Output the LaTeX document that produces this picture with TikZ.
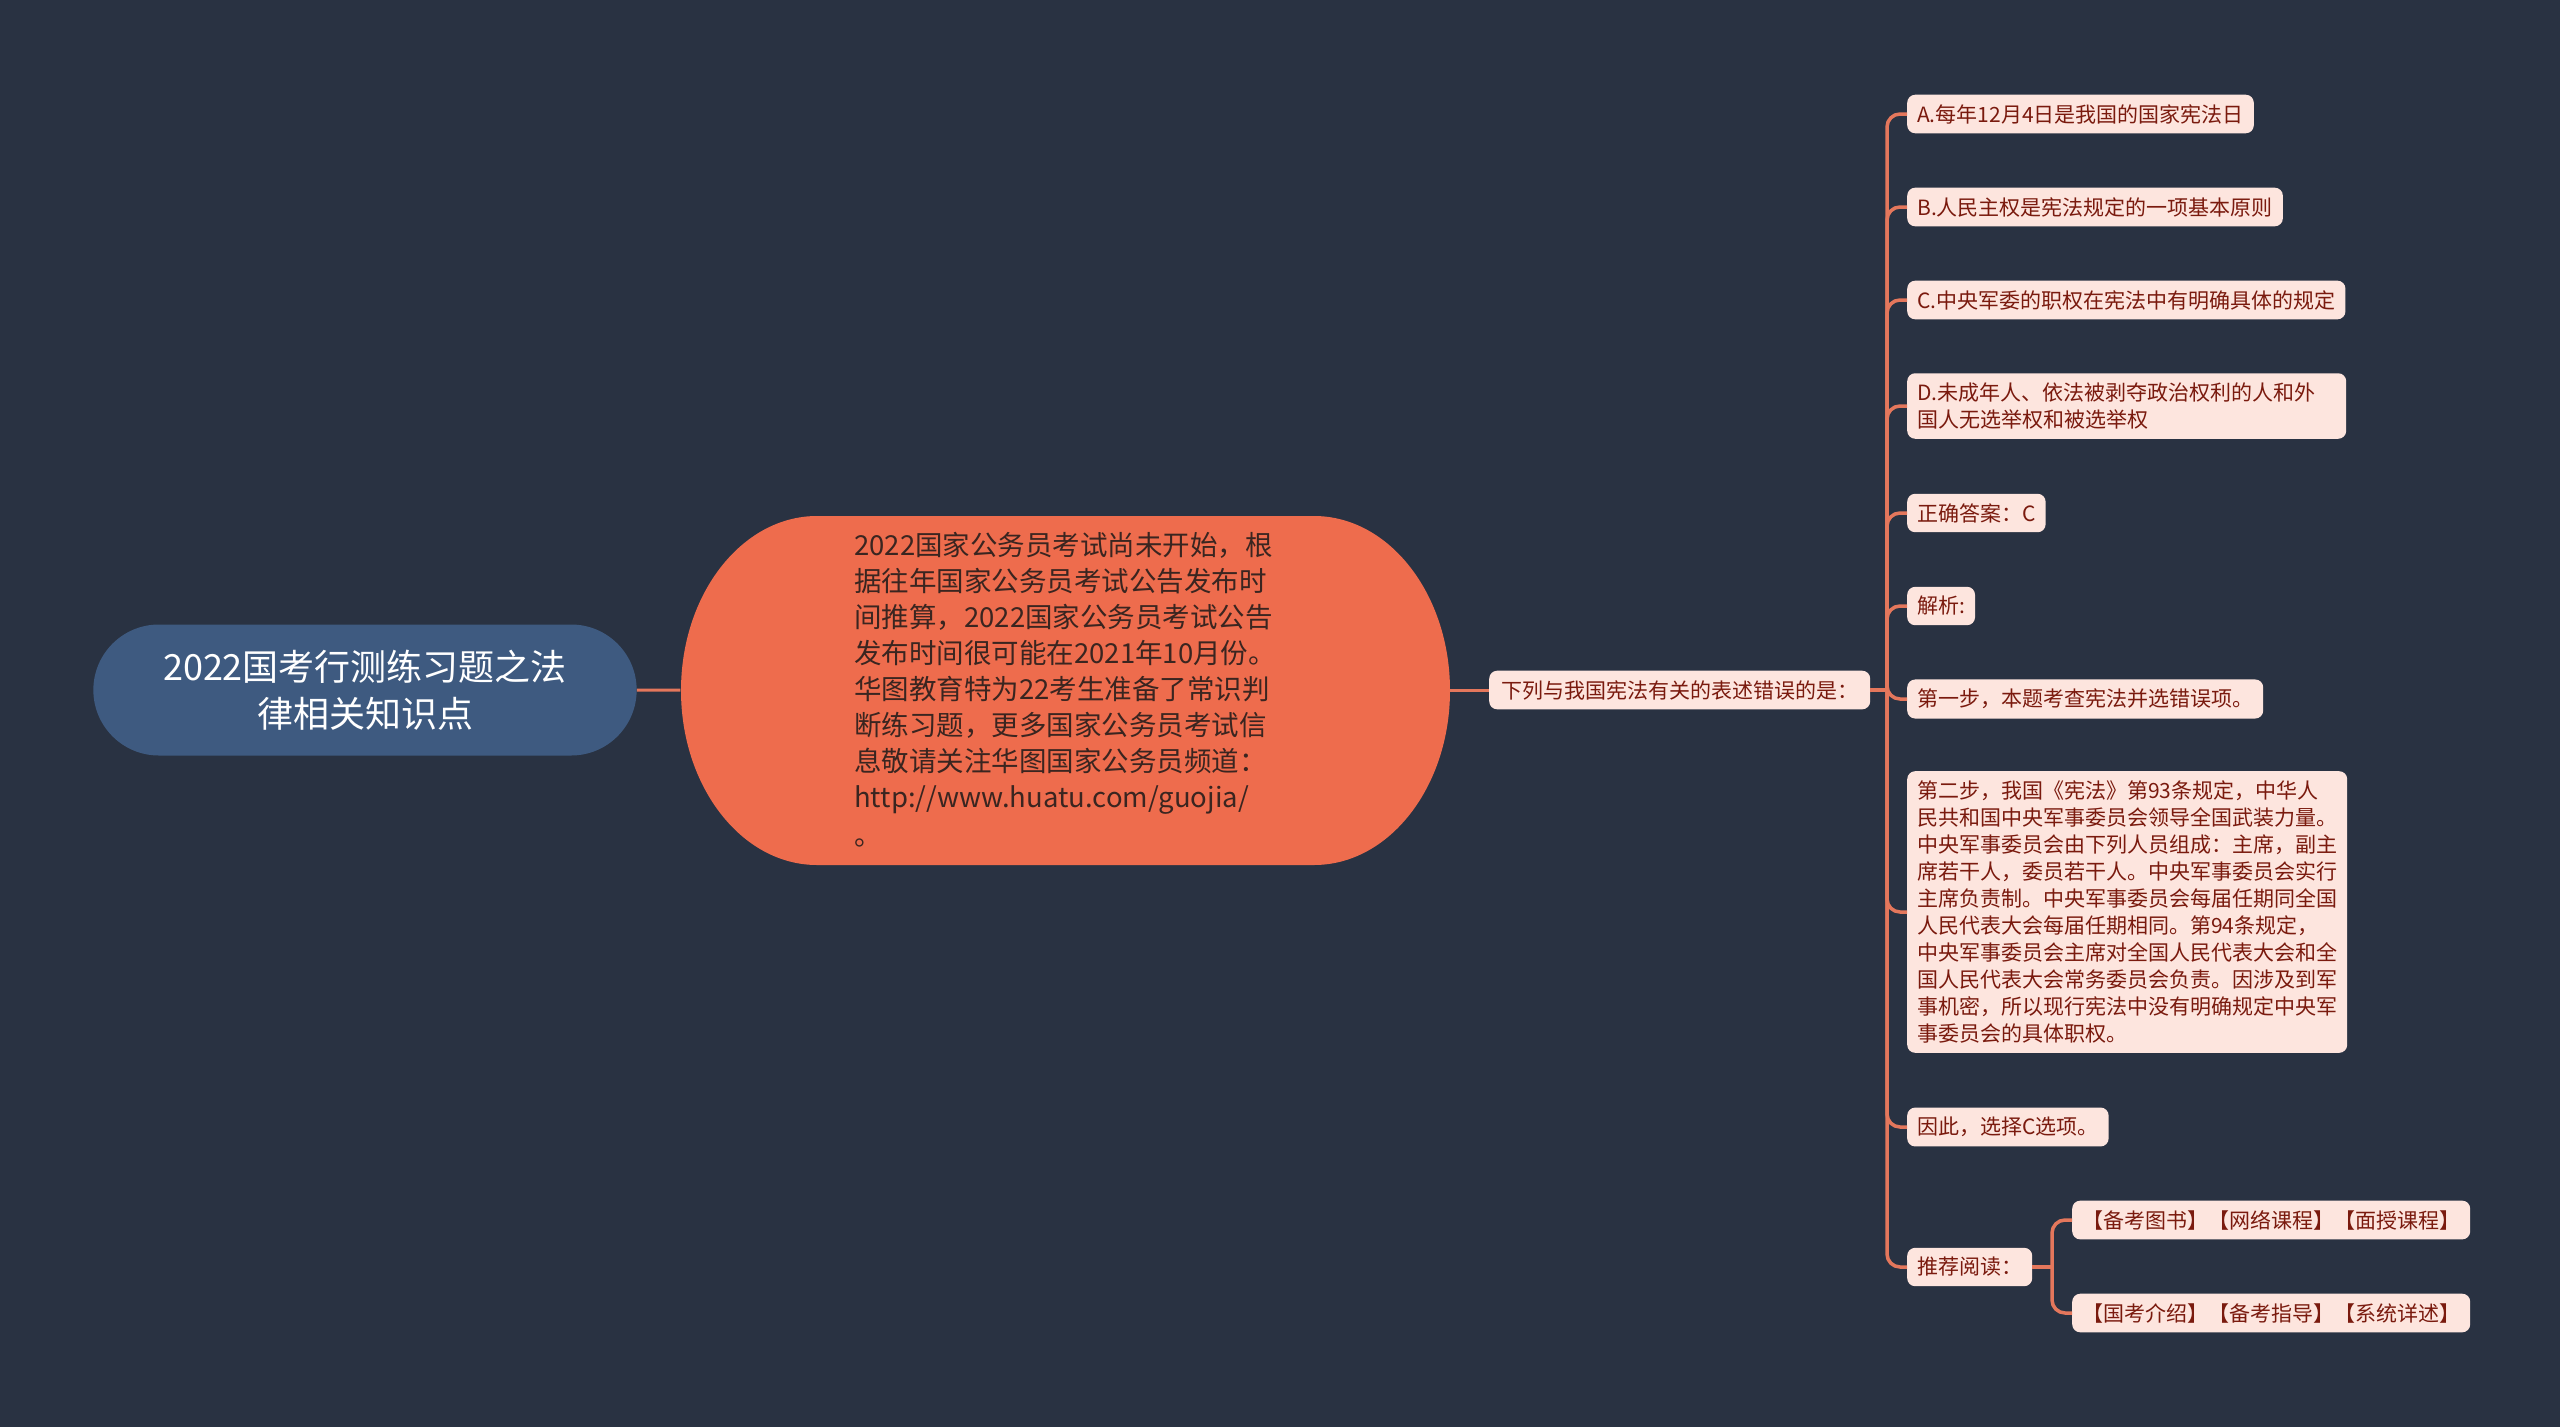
\documentclass[tikz,border=0pt]{standalone}
\usepackage{fontspec}
\setmainfont{Noto Sans CJK SC}
\usetikzlibrary{shapes.misc}
\definecolor{bgnavy}{HTML}{293242}
\definecolor{rootblue}{HTML}{3E5A80}
\definecolor{hubred}{HTML}{EE6C4D}
\definecolor{leafpink}{HTML}{FDE5DE}
\definecolor{leafink}{HTML}{7A1A0E}
\definecolor{hubink}{HTML}{3A2520}
\definecolor{wire}{HTML}{E4775C}
\begin{document}
\begin{tikzpicture}
[x=1pt, y=-1pt,
root/.style={shape=rounded rectangle, fill=rootblue, text=white, align=center,
  minimum width=550pt, minimum height=131pt, font=\fontsize{36}{47}\selectfont},
hub/.style={text=hubink, align=left, minimum width=769pt, minimum height=349pt,
  font=\fontsize{27.5}{36}\selectfont},
leaf/.style={anchor=west, fill=leafpink, text=leafink, rounded corners=8pt, align=left,
  inner xsep=10pt, inner ysep=9.5pt, font=\fontsize{21}{27}\selectfont},
link/.style={draw=wire, line width=3.5pt, rounded corners=13pt}]
\useasboundingbox[fill=bgnavy] (0,0) rectangle (2560,1427);

\node (root) at (365,690) [root] {2022国考行测练习题之法\\律相关知识点};
% hub body, oval ends
\fill[hubred] (817,516) -- (1314,516)
  arc[start angle=-90, end angle=90, x radius=136, y radius=174.5]
  -- (817,865) arc[start angle=90, end angle=270, x radius=136, y radius=174.5] -- cycle;
\node (hub) at (1065,690) [hub] {2022国家公务员考试尚未开始，根\\据往年国家公务员考试公告发布时\\间推算，2022国家公务员考试公告\\发布时间很可能在2021年10月份。\\华图教育特为22考生准备了常识判\\断练习题，更多国家公务员考试信\\息敬请关注华图国家公务员频道：\\http://www.huatu.com/guojia/\\[2pt]。};
\node (quest) at (1489,690) [leaf, inner xsep=12pt] {下列与我国宪法有关的表述错误的是：};

\coordinate (trunk) at (1887,690);
\node (optA) at (1907,114) [leaf] {A.每年12月4日是我国的国家宪法日};
\node (optB) at (1907,207) [leaf] {B.人民主权是宪法规定的一项基本原则};
\node (optC) at (1907,300) [leaf] {C.中央军委的职权在宪法中有明确具体的规定};
\node (optD) at (1907,406) [leaf, text width=419pt] {D.未成年人、依法被剥夺政治权利的人和外\\国人无选举权和被选举权};
\node (answer) at (1907,513) [leaf] {正确答案：C};
\node (expl) at (1907,606) [leaf] {解析:};
\node (step1) at (1907,699) [leaf] {第一步，本题考查宪法并选错误项。};
\node (step2) at (1907,912) [leaf] {第二步，我国《宪法》第93条规定，中华人\\民共和国中央军事委员会领导全国武装力量。\\中央军事委员会由下列人员组成：主席，副主\\席若干人，委员若干人。中央军事委员会实行\\主席负责制。中央军事委员会每届任期同全国\\人民代表大会每届任期相同。第94条规定，\\中央军事委员会主席对全国人民代表大会和全\\国人民代表大会常务委员会负责。因涉及到军\\事机密，所以现行宪法中没有明确规定中央军\\事委员会的具体职权。};
\node (concl) at (1907,1127) [leaf] {因此，选择C选项。};
\node (recread) at (1907,1267) [leaf] {推荐阅读：};

\coordinate (subtrunk) at (2052,1267);
\node (readA) at (2072,1220) [leaf] {【备考图书】【网络课程】【面授课程】};
\node (readB) at (2072,1313) [leaf] {【国考介绍】【备考指导】【系统详述】};

\draw[link, line width=3pt] (root) -- (hub);
\draw[link, line width=3pt] (hub) -- (quest);
\draw[link] (quest.east) -- (trunk);
\foreach \n in {optA,optB,optC,optD,answer,expl,step1,step2,concl,recread}
  \draw[link] (trunk) |- (\n.west);
\draw[link] (recread.east) -- (subtrunk);
\foreach \n in {readA,readB}
  \draw[link] (subtrunk) |- (\n.west);

\end{tikzpicture}
\end{document}
